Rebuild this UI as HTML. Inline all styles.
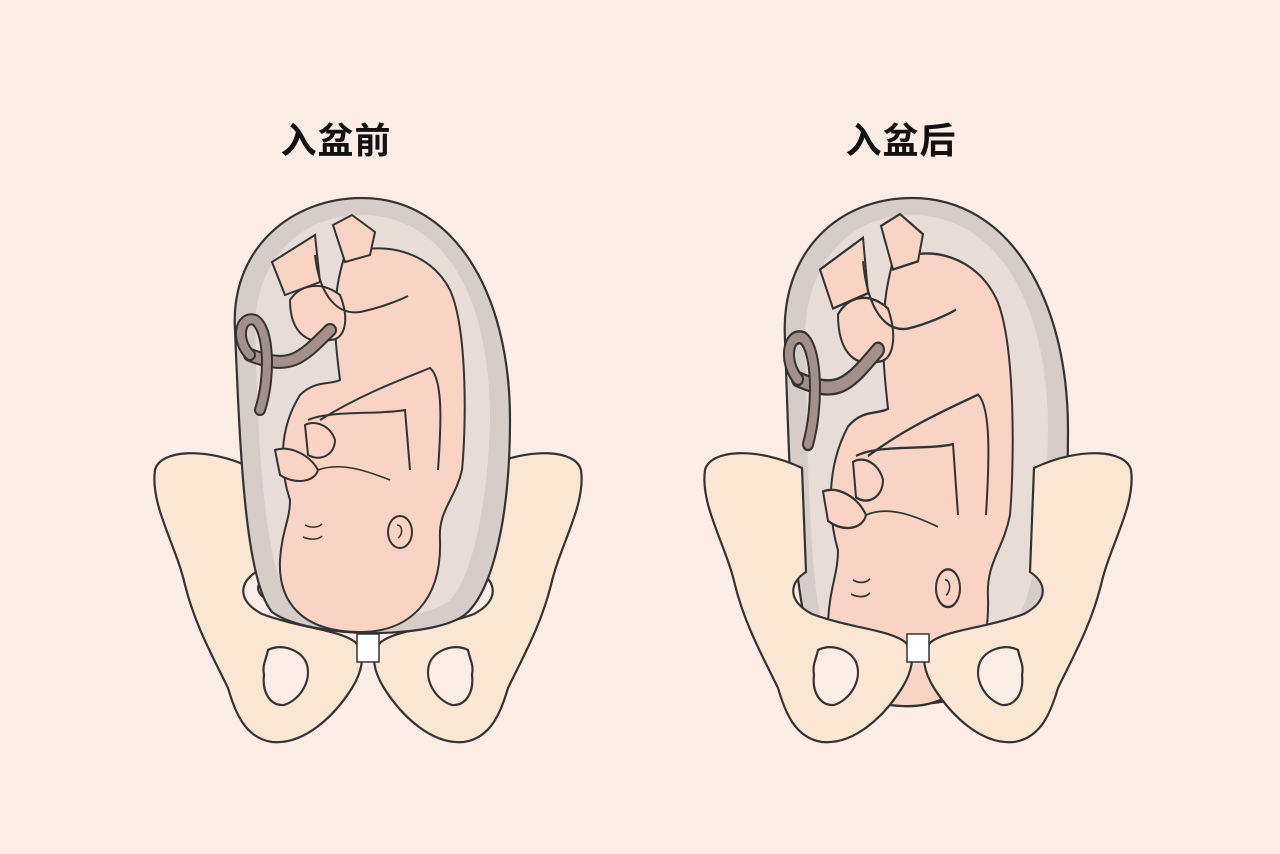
<!DOCTYPE html>
<html><head><meta charset="utf-8"><style>
html,body{margin:0;padding:0;background:#fdede7;}
.t{position:absolute;top:112px;font:bold 36px "Liberation Sans","Noto Sans CJK SC",sans-serif;color:#111;width:200px;text-align:center;letter-spacing:1px}
</style></head><body>
<div style="position:relative;width:1280px;height:854px;overflow:hidden">
<div class="t" style="left:236px">入盆前</div>
<div class="t" style="left:801px">入盆后</div>
<svg width="1280" height="854" style="position:absolute;left:0;top:0">
<defs>
<g id="half">
<path d="M155,470 C160,450 205,446 252,468 L256,572 C240,582 236,600 262,614 C300,628 340,630 355,642 C368,655 360,675 352,688 C335,715 305,745 272,742 C245,738 235,712 228,688 C212,655 195,625 185,585 C176,545 150,505 155,470 Z" fill="#f9e6d3" stroke="#333" stroke-width="2.2"/>
<path d="M268,650 C282,643 300,650 306,662 C313,680 300,700 284,705 C270,706 262,692 264,675 C262,665 266,660 268,650 Z" fill="#fdede7" stroke="#333" stroke-width="2.2"/>
</g>
<g id="fetus">
<path d="M345,255 C380,240 430,250 450,290 C468,330 466,430 462,470 C455,500 438,510 440,540 C442,600 410,632 360,632 C300,632 278,600 280,560 C282,530 290,520 290,500 C280,470 278,430 300,395 C315,380 330,385 340,380 C335,340 330,300 345,255 Z" fill="#f9d3c4" stroke="#333" stroke-width="2"/>
<path d="M290,300 C300,285 320,280 340,295 C350,320 345,340 330,340 C310,345 290,335 290,300 Z" fill="#f9d3c4" stroke="#333" stroke-width="2"/>
<path d="M272,262 L315,235 L320,282 L285,295 Z" fill="#f9d3c4" stroke="#333" stroke-width="2"/>
<path d="M333,225 L352,215 L375,232 L370,255 L345,262 Z" fill="#f9d3c4" stroke="#333" stroke-width="2"/>
<path d="M315,255 C320,300 340,315 360,312 C380,308 400,300 408,296" fill="none" stroke="#333" stroke-width="2"/>
<path d="M330,330 C300,360 290,370 250,355" fill="none" stroke="#333" stroke-width="14" stroke-linecap="round"/>
<path d="M330,330 C300,360 290,370 250,355" fill="none" stroke="#a3908b" stroke-width="10" stroke-linecap="round"/>
<path d="M250,355 C235,340 240,315 255,320 C270,330 270,380 260,410" fill="none" stroke="#333" stroke-width="12" stroke-linecap="round"/>
<path d="M250,355 C235,340 240,315 255,320 C270,330 270,380 260,410" fill="none" stroke="#a3908b" stroke-width="8" stroke-linecap="round"/>
<path d="M320,420 C360,395 400,380 430,368 C445,380 440,440 438,470" fill="none" stroke="#333" stroke-width="2"/>
<path d="M308,420 C330,410 380,415 405,410 L410,470" fill="none" stroke="#333" stroke-width="2"/>
<path d="M305,425 C315,420 330,425 335,440 C335,455 320,462 308,455 Z" fill="#f9d3c4" stroke="#333" stroke-width="2"/>
<path d="M275,450 C290,445 310,455 318,470 C315,482 295,485 280,475 Z" fill="#f9d3c4" stroke="#333" stroke-width="2"/>
<path d="M318,470 C340,462 365,470 390,480" fill="none" stroke="#333" stroke-width="1.5"/>
<path d="M305,525 C310,528 318,528 322,524 M303,537 C310,540 318,540 322,536" fill="none" stroke="#333" stroke-width="1.5"/>
<ellipse cx="400" cy="532" rx="12" ry="16" fill="none" stroke="#333" stroke-width="2"/>
<path d="M397,525 C403,525 403,535 398,538" fill="none" stroke="#333" stroke-width="1.5"/>
</g>
</defs>
<ellipse cx="368" cy="588" rx="110" ry="30" fill="#fff" stroke="#333" stroke-width="2"/>
<use href="#half"/>
<use href="#half" transform="translate(736,0) scale(-1,1)"/>
<rect x="357" y="634" width="22" height="28" fill="#fff" stroke="#333" stroke-width="1.5"/>
<path d="M235,330 C230,250 290,198 362,198 C452,198 510,290 510,420 C510,520 492,588 468,612 C440,640 310,640 272,612 C245,580 240,450 235,330 Z" fill="#d6cdc8" stroke="#333" stroke-width="2.2"/>
<path d="M255,330 C255,260 300,215 362,215 C440,215 490,290 490,420 C488,510 470,580 450,600 C420,625 320,625 290,600 C265,570 258,450 255,330 Z" fill="#e8ddd6"/>
<use href="#fetus"/>
<path d="M785,340 C780,250 840,198 912,198 C1010,198 1068,300 1068,430 C1068,560 1050,620 1022,645 C1000,690 960,705 900,705 C850,705 830,690 820,662 C792,620 790,480 785,340 Z" fill="#d6cdc8" stroke="#333" stroke-width="2.2"/>
<path d="M805,340 C805,262 850,215 912,215 C995,215 1048,300 1048,430 C1046,540 1030,610 1005,640 C985,680 950,690 900,690 C860,690 840,675 830,650 C810,610 808,480 805,340 Z" fill="#e8ddd6"/>
<g transform="translate(548,-39.6) scale(1,1.18)"><use href="#fetus"/></g>
<g transform="translate(550,0)">
<use href="#half"/>
<use href="#half" transform="translate(736,0) scale(-1,1)"/>
<rect x="357" y="634" width="22" height="28" fill="#fff" stroke="#333" stroke-width="1.5"/>
</g>
</svg>
</div>
</body></html>
